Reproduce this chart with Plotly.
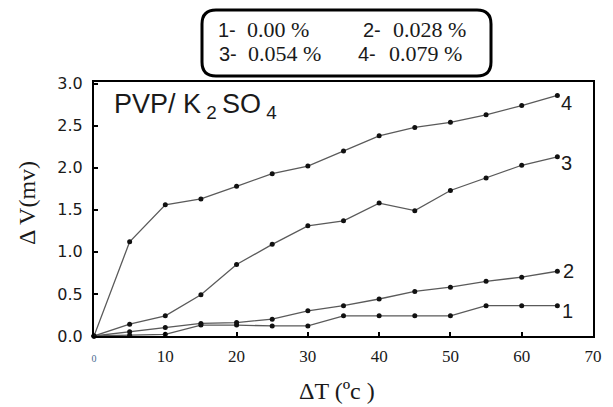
import plotly.graph_objects as go

# ---- data ----
dT = [0, 5, 10, 15, 20, 25, 30, 35, 40, 45, 50, 55, 60, 65]
s1 = [0, 0.01, 0.02, 0.13, 0.13, 0.12, 0.12, 0.24, 0.24, 0.24, 0.24, 0.36, 0.36, 0.36]
s2 = [0, 0.05, 0.10, 0.15, 0.16, 0.20, 0.30, 0.36, 0.44, 0.53, 0.58, 0.65, 0.70, 0.77]
s3 = [0, 0.14, 0.24, 0.49, 0.85, 1.09, 1.31, 1.37, 1.58, 1.49, 1.73, 1.88, 2.03, 2.13]
s4 = [0, 1.12, 1.56, 1.63, 1.78, 1.93, 2.02, 2.20, 2.38, 2.48, 2.54, 2.63, 2.74, 2.86]
series = [s1, s2, s3, s4]
series_names = ["1", "2", "3", "4"]
legend_nums = ["1-", "2-", "3-", "4-"]
legend_pcts = ["0.00 %", "0.028 %", "0.054 %", "0.079 %"]
x_ticks = [0, 10, 20, 30, 40, 50, 60, 70]
y_ticks = [0.0, 0.5, 1.0, 1.5, 2.0, 2.5, 3.0]

# label offsets (pixels) for the end-of-line numbers
label_shift = {"1": (10, -5), "2": (11, 0), "3": (9, -6), "4": (9, -8)}

fig = go.Figure()
for name, vals in zip(series_names, series):
    fig.add_trace(go.Scatter(
        x=dT, y=vals, mode="lines+markers", name=name,
        line=dict(color="#5a5a5a", width=1.3),
        marker=dict(color="#111111", size=5),
        showlegend=False, cliponaxis=False,
    ))
    dx, dy = label_shift[name]
    fig.add_annotation(x=dT[-1], y=vals[-1], text=name, showarrow=False,
                       xanchor="center", yanchor="middle", xshift=dx, yshift=dy,
                       font=dict(family="Liberation Sans", size=20, color="#1a1a1a"))

tick_text_x = ["<span style='font-size:10px;color:#4a6a90'>0</span>"] + [str(v) for v in x_ticks[1:]]

fig.update_xaxes(range=[0, 70], tickvals=x_ticks, ticktext=tick_text_x,
                 ticks="inside", ticklen=4, tickwidth=1.5, tickcolor="black",
                 showline=True, linecolor="black", linewidth=2, mirror=True,
                 showgrid=False, zeroline=False, ticklabelstandoff=4,
                 tickfont=dict(family="Liberation Serif", size=17, color="#1a1a1a"))
fig.update_yaxes(range=[0, 3.02], tickvals=y_ticks, ticktext=[f"{v:.1f}" for v in y_ticks],
                 ticks="inside", ticklen=4, tickwidth=1.5, tickcolor="black",
                 showline=True, linecolor="black", linewidth=2, mirror=True,
                 showgrid=False, zeroline=False, ticklabelstandoff=6,
                 tickfont=dict(family="DejaVu Sans", size=16, color="#1a1a1a"))

W, H = 613, 407
L, R, T, B = 94, 20, 82, 71
pw, ph = W - L - R, H - T - B

def px(x):
    return (x - L) / pw

def py(y):
    return (H - B - y) / ph

# rounded legend box
x0, x1, y0, y1 = px(202), px(491), py(76), py(10)
rx, ry = 14 / pw, 14 / ph
path = (f"M {x0+rx},{y0} L {x1-rx},{y0} Q {x1},{y0} {x1},{y0+ry} "
        f"L {x1},{y1-ry} Q {x1},{y1} {x1-rx},{y1} L {x0+rx},{y1} "
        f"Q {x0},{y1} {x0},{y1-ry} L {x0},{y0+ry} Q {x0},{y0} {x0+rx},{y0} Z")
fig.add_shape(type="path", path=path, xref="paper", yref="paper",
              line=dict(color="black", width=3), fillcolor="white")

num_pos = [(216, 30), (361, 30), (217, 54), (356, 54)]
pct_pos = [(245, 30), (391, 30), (246, 54), (387, 54)]
for num, pct, (nx, ny), (qx, qy) in zip(legend_nums, legend_pcts, num_pos, pct_pos):
    fig.add_annotation(x=px(nx), y=py(ny), xref="paper", yref="paper", text=num,
                       showarrow=False, xanchor="left", yanchor="middle",
                       font=dict(family="Liberation Sans", size=20, color="#1a1a1a"))
    fig.add_annotation(x=px(qx), y=py(qy), xref="paper", yref="paper", text=pct,
                       showarrow=False, xanchor="left", yanchor="middle",
                       font=dict(family="Liberation Serif", size=22, color="#1a1a1a"))

# inner title
fig.add_annotation(x=px(112), y=py(106), xref="paper", yref="paper",
                   text="PVP/ K<sub> 2 </sub>SO<sub> 4</sub>", showarrow=False,
                   xanchor="left", yanchor="middle",
                   font=dict(family="Liberation Sans", size=27, color="#1a1a1a"))

# axis titles
fig.add_annotation(x=px(27), y=py(203), xref="paper", yref="paper",
                   text="Δ V(mv)", textangle=-90, showarrow=False,
                   xanchor="center", yanchor="middle",
                   font=dict(family="Liberation Serif", size=24, color="#1a1a1a"))
fig.add_annotation(x=px(337), y=py(391), xref="paper", yref="paper",
                   text="ΔT (ºc )", showarrow=False,
                   xanchor="center", yanchor="middle",
                   font=dict(family="Liberation Serif", size=24, color="#1a1a1a"))

fig.update_layout(width=W, height=H, margin=dict(l=L, r=R, t=T, b=B),
                  plot_bgcolor="white", paper_bgcolor="white")

fig.write_html("out.html")
